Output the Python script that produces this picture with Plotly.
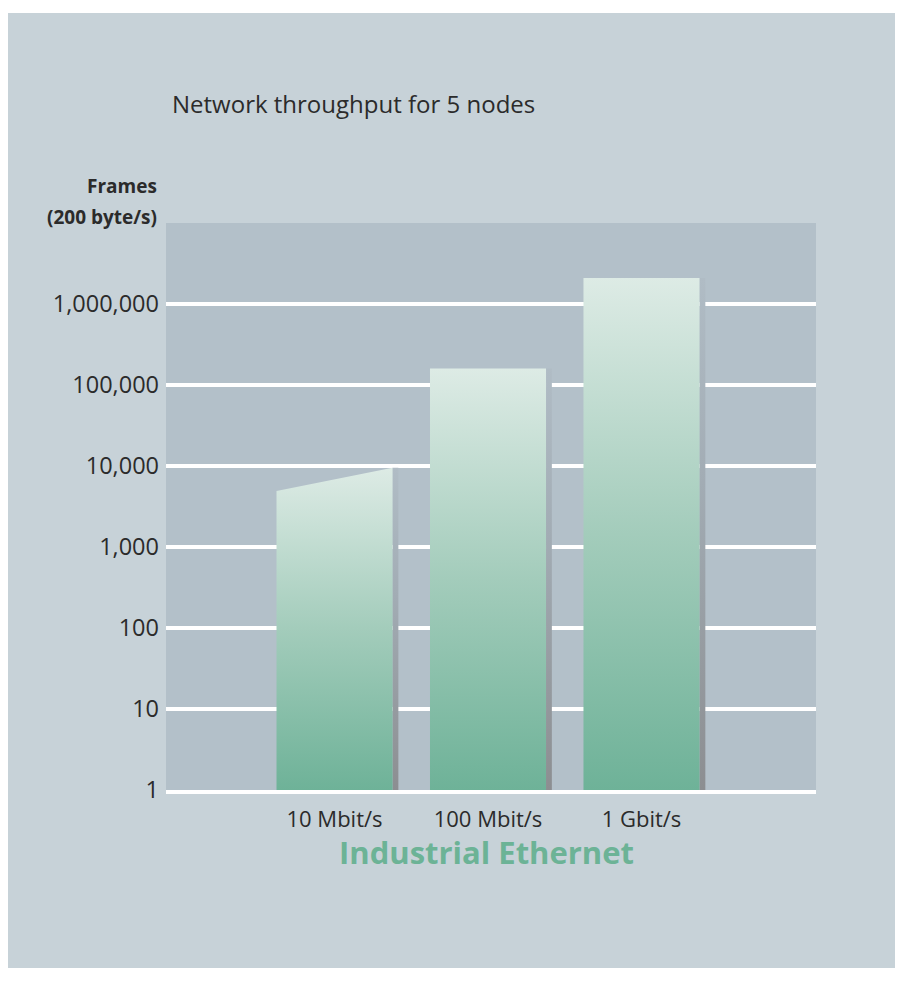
import plotly.graph_objects as go

# ---------------- data ----------------
categories = ["10 Mbit/s", "100 Mbit/s", "1 Gbit/s"]
frames_low = [4900, 160000, 2100000]    # left edge of bar top
frames_high = [9500, 160000, 2100000]   # right edge of bar top
y_tickvals = [1, 10, 100, 1000, 10000, 100000, 1000000]
y_ticktext = ["1", "10", "100", "1,000", "10,000", "100,000", "1,000,000"]

title_text = "Network throughput for 5 nodes"
y_title_lines = ["Frames", "(200 byte/s)"]
x_title = "Industrial Ethernet"

# ---------------- style ----------------
PANEL = "#c7d2d8"
PLOT_BG = "#b3c0c9"
TEXT = "#2b2b2b"
GREEN = "#6cb396"
FONT = "Open Sans"

W, H = 895, 960
ML, MR, MT = 158, 87, 215
PW = W - ML - MR
PH = 567
MB = H - MT - PH

bar_w = 0.756
shadow_w = 0.038

fig = go.Figure()

for i, cat in enumerate(categories):
    x0 = i - bar_w / 2
    x1 = i + bar_w / 2
    # shadow on right side
    fig.add_trace(go.Scatter(
        x=[x1, x1, x1 + shadow_w, x1 + shadow_w, x1],
        y=[1, frames_high[i], frames_high[i], 1, 1],
        mode="lines", line=dict(width=0), fill="toself",
        fillgradient=dict(type="vertical",
                          colorscale=[[0, "#8c8e91"], [0.6, "#a2acb4"], [1, "#b0bcc5"]]),
        hoverinfo="skip", showlegend=False,
    ))
    # bar body
    fig.add_trace(go.Scatter(
        x=[x0, x0, x1, x1, x0],
        y=[1, frames_low[i], frames_high[i], 1, 1],
        mode="lines", line=dict(width=0), fill="toself",
        fillgradient=dict(type="vertical",
                          colorscale=[[0, "#6eb298"], [0.5, "#a3ccbb"], [1, "#ddebe5"]]),
        name=cat, showlegend=False,
        hovertemplate=cat + "<extra></extra>",
    ))

def px_x(px):
    return (px - ML) / PW

def px_y(py):
    return (MT + PH - py) / PH

annotations = [
    dict(text=title_text, x=px_x(162), y=px_y(95), xref="paper", yref="paper",
         xanchor="left", yanchor="middle", showarrow=False,
         font=dict(family=FONT, size=24, color=TEXT)),
    dict(text="<b>" + y_title_lines[0] + "</b>", x=px_x(151), y=px_y(178),
         xref="paper", yref="paper", xanchor="right", yanchor="middle",
         showarrow=False, font=dict(family=FONT, size=19, color=TEXT)),
    dict(text="<b>" + y_title_lines[1] + "</b>", x=px_x(151), y=px_y(209),
         xref="paper", yref="paper", xanchor="right", yanchor="middle",
         showarrow=False, font=dict(family=FONT, size=19, color=TEXT)),
    dict(text="<b>" + x_title + "</b>", x=px_x(478), y=px_y(844),
         xref="paper", yref="paper", xanchor="center", yanchor="middle",
         showarrow=False, font=dict(family=FONT, size=31, color=GREEN)),
]

fig.update_layout(
    width=W, height=H,
    margin=dict(l=ML, r=MR, t=MT, b=MB, pad=0),
    paper_bgcolor=PANEL, plot_bgcolor=PLOT_BG,
    font=dict(family=FONT, color=TEXT),
    annotations=annotations,
    shapes=[dict(type="rect", xref="paper", yref="paper",
                 x0=px_x(-20), x1=px_x(W + 20), y0=px_y(-10), y1=px_y(5),
                 fillcolor="white", line=dict(width=0), layer="above")],
    xaxis=dict(range=[-1.098, 3.137], tickvals=list(range(len(categories))),
               ticktext=categories, showgrid=False, zeroline=False,
               showline=True, linecolor="white", linewidth=4,
               ticks="", ticklabelstandoff=7,
               tickfont=dict(family=FONT, size=22, color=TEXT), fixedrange=True),
    yaxis=dict(type="log", range=[0, 7], tickvals=y_tickvals, ticktext=y_ticktext,
               showgrid=True, gridcolor="white", gridwidth=4, zeroline=False,
               showline=False, ticks="", ticklabelstandoff=6,
               tickfont=dict(family=FONT, size=23.5, color=TEXT), fixedrange=True),
    hovermode="closest",
)

fig.write_html("out.html")
